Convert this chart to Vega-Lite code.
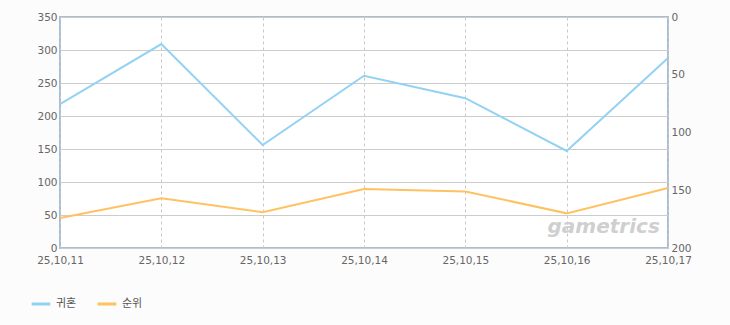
{
  "$schema": "https://vega.github.io/schema/vega-lite/v6.json",
  "width": 608,
  "height": 231,
  "autosize": {"type": "none"},
  "padding": {"left": 60, "top": 17, "right": 62, "bottom": 77},
  "background": "#fcfcfc",
  "config": {
    "font": "DejaVu Sans",
    "view": {"stroke": "#a9bdd3", "strokeWidth": 2, "fill": "#ffffff"},
    "axis": {"labelColor": "#666666", "labelFontSize": 10.5, "labelFont": "DejaVu Sans", "domain": false, "ticks": false, "title": null}
  },
  "datasets": {
    "main": [
      {"date": "25,10,11", "series": "귀혼", "value": 218},
      {"date": "25,10,12", "series": "귀혼", "value": 309},
      {"date": "25,10,13", "series": "귀혼", "value": 156},
      {"date": "25,10,14", "series": "귀혼", "value": 261},
      {"date": "25,10,15", "series": "귀혼", "value": 227},
      {"date": "25,10,16", "series": "귀혼", "value": 147},
      {"date": "25,10,17", "series": "귀혼", "value": 288}
    ],
    "rank": [
      {"date": "25,10,11", "series": "순위", "value": 174},
      {"date": "25,10,12", "series": "순위", "value": 157},
      {"date": "25,10,13", "series": "순위", "value": 169},
      {"date": "25,10,14", "series": "순위", "value": 149},
      {"date": "25,10,15", "series": "순위", "value": 151},
      {"date": "25,10,16", "series": "순위", "value": 170},
      {"date": "25,10,17", "series": "순위", "value": 148}
    ]
  },
  "layer": [
    {
      "data": {"name": "main"},
      "mark": {"type": "line", "strokeWidth": 2},
      "encoding": {
        "x": {"field": "date", "type": "ordinal", "scale": {"type": "point", "padding": 0},
          "axis": {"labelAngle": 0, "grid": true, "gridDash": [3, 3], "gridColor": "#c8c8c8", "labelPadding": 7, "labelOverlap": false}},
        "y": {"field": "value", "type": "quantitative", "scale": {"domain": [0, 350], "nice": false},
          "axis": {"values": [0, 50, 100, 150, 200, 250, 300, 350], "grid": true, "gridColor": "#cccccc", "labelPadding": 3}},
        "color": {"field": "series", "type": "nominal",
          "scale": {"domain": ["귀혼", "순위"], "range": ["#93d2f2", "#ffc262"]},
          "legend": {"orient": "none", "legendX": -30, "legendY": 276, "direction": "horizontal", "title": null,
            "symbolType": "stroke", "symbolStrokeWidth": 3, "symbolSize": 350, "labelFont": "Noto Sans CJK KR",
            "labelFontSize": 11, "labelColor": "#555555", "columnPadding": 14}}
      }
    },
    {
      "data": {"name": "rank"},
      "mark": {"type": "line", "strokeWidth": 2},
      "encoding": {
        "x": {"field": "date", "type": "ordinal"},
        "y": {"field": "value", "type": "quantitative", "scale": {"domain": [0, 200], "reverse": true, "nice": false},
          "axis": {"orient": "right", "values": [0, 50, 100, 150, 200], "grid": false, "labelPadding": 3}},
        "color": {"field": "series", "type": "nominal"}
      }
    },
    {
      "data": {"values": [{"t": "gametrics"}]},
      "mark": {"type": "text", "fontSize": 20, "fontStyle": "italic", "fontWeight": "bold", "color": "#cfcfcf", "align": "center", "baseline": "middle", "dx": 37, "font": "DejaVu Sans"},
      "encoding": {
        "x": {"datum": "25,10,16", "type": "ordinal"},
        "y": {"datum": 32, "type": "quantitative", "scale": {"domain": [0, 350], "nice": false}, "axis": null},
        "text": {"field": "t"}
      }
    }
  ],
  "resolve": {"scale": {"y": "independent"}}
}
